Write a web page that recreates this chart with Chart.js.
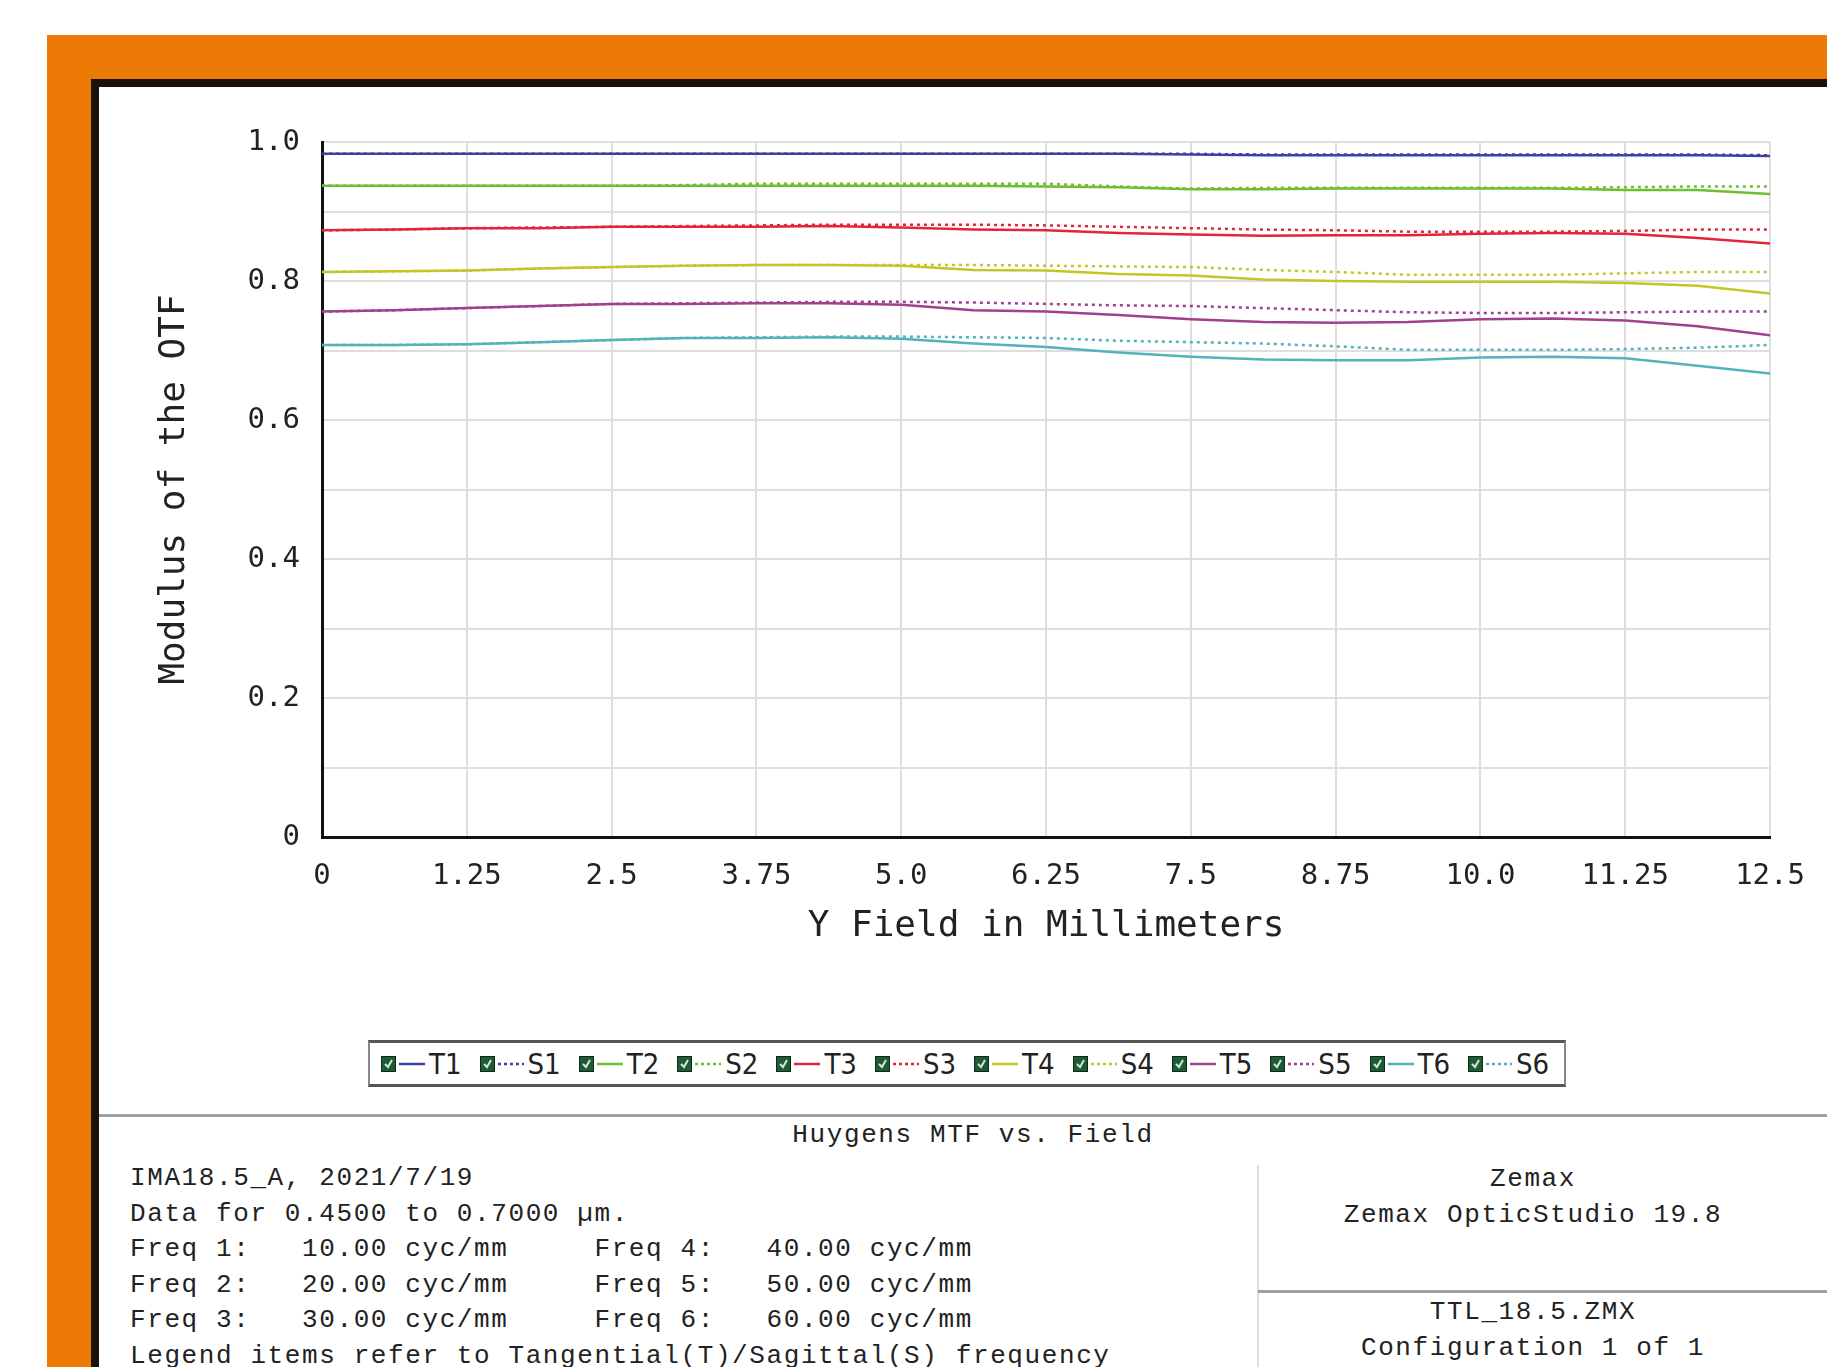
<!DOCTYPE html>
<html>
<head>
<meta charset="utf-8">
<script src="https://cdn.jsdelivr.net/npm/chart.js"></script>
<style>
  body { margin:0; width:1827px; height:1367px; overflow:hidden; background:#fff; position:relative;
         font-family:'Liberation Mono','DejaVu Sans Mono',monospace; color:#222; }
  .abs { position:absolute; }
  #orange { left:47px; top:35px; right:0; bottom:0; background:#ee7a06; }
  #black { left:91px; top:79px; right:0; bottom:0; background:#1c1109; }
  #white { left:99px; top:87px; right:0; bottom:0; background:#fff; }
  #chart { left:0; top:0; }
  #legend { left:368px; top:1040px; width:1198px; height:47px; box-sizing:border-box;
            border:2px solid #888; border-top:3px solid #555; border-bottom:3px solid #555;
            display:flex; align-items:center; padding-left:11px;
            font-family:'Liberation Sans Narrow','DejaVu Sans Condensed',sans-serif; font-size:29px; color:#222; }
  .item { display:flex; align-items:center; margin-right:18px; }
  .item svg { display:block; }
  .txt { font-size:26px; letter-spacing:1.6px; white-space:pre; line-height:35.5px; }
  #sep { left:99px; top:1114px; right:0; height:3px; background:#a0a0a0; }
  #vline { left:1257px; top:1165px; width:2px; bottom:0; background:#dedede; }
  #hline { left:1258px; top:1290px; right:0; height:3px; background:#a0a0a0; }
</style>
</head>
<body>
<div id="orange" class="abs"></div>
<div id="black" class="abs"></div>
<div id="white" class="abs"></div>
<canvas id="chart" class="abs" width="1827" height="1000"></canvas>
<div id="legend" class="abs"></div>
<div id="sep" class="abs"></div>
<div class="abs txt" style="left:773px;top:1118px;width:400px;text-align:center;">Huygens MTF vs. Field</div>
<div class="abs txt" style="left:130px;top:1161px;">IMA18.5_A, 2021/7/19
Data for 0.4500 to 0.7000 µm.
Freq 1:   10.00 cyc/mm     Freq 4:   40.00 cyc/mm
Freq 2:   20.00 cyc/mm     Freq 5:   50.00 cyc/mm
Freq 3:   30.00 cyc/mm     Freq 6:   60.00 cyc/mm
Legend items refer to Tangential(T)/Sagittal(S) frequency</div>
<div id="vline" class="abs"></div>
<div id="hline" class="abs"></div>
<div class="abs txt" style="left:1333px;top:1162px;width:400px;text-align:center;">Zemax
Zemax OpticStudio 19.8</div>
<div class="abs txt" style="left:1333px;top:1295px;width:400px;text-align:center;">TTL_18.5.ZMX
Configuration 1 of 1</div>

<script>
// Y field positions (mm)
var fieldY = [0, 0.625, 1.25, 1.875, 2.5, 3.125, 3.75, 4.375, 5.0, 5.625, 6.25,
              6.875, 7.5, 8.125, 8.75, 9.375, 10.0, 10.625, 11.25, 11.875, 12.5];

var xTickValues = [0, 1.25, 2.5, 3.75, 5, 6.25, 7.5, 8.75, 10, 11.25, 12.5];
var xTickLabels = ['0', '1.25', '2.5', '3.75', '5.0', '6.25', '7.5', '8.75', '10.0', '11.25', '12.5'];
var yTickValues = [0, 0.1, 0.2, 0.3, 0.4, 0.5, 0.6, 0.7, 0.8, 0.9, 1.0];
var yTickLabels = ['0', '', '0.2', '', '0.4', '', '0.6', '', '0.8', '', '1.0'];

var seriesNames = ['T1', 'S1', 'T2', 'S2', 'T3', 'S3', 'T4', 'S4', 'T5', 'S5', 'T6', 'S6'];
var seriesColors = ['#3b3fa6', '#3b3fa6', '#6fbd30', '#6fbd30', '#e3243b', '#e3243b',
                    '#c3c628', '#c3c628', '#a0408f', '#a0408f', '#52b3bb', '#52b3bb'];

var t1 = [0.983, 0.983, 0.983, 0.983, 0.983, 0.983, 0.983, 0.983, 0.983, 0.983, 0.983,
          0.983, 0.982, 0.981, 0.981, 0.981, 0.981, 0.981, 0.981, 0.981, 0.980];
var s1 = [0.983, 0.983, 0.983, 0.983, 0.983, 0.983, 0.983, 0.983, 0.983, 0.983, 0.983,
          0.983, 0.983, 0.982, 0.982, 0.982, 0.982, 0.982, 0.982, 0.982, 0.981];
var t2 = [0.937, 0.937, 0.937, 0.937, 0.937, 0.937, 0.937, 0.937, 0.937, 0.937, 0.936,
          0.935, 0.932, 0.932, 0.933, 0.933, 0.933, 0.933, 0.931, 0.931, 0.925];
var s2 = [0.937, 0.937, 0.937, 0.937, 0.937, 0.938, 0.940, 0.940, 0.940, 0.940, 0.940,
          0.936, 0.933, 0.934, 0.934, 0.934, 0.934, 0.934, 0.935, 0.936, 0.936];
var t3 = [0.873, 0.874, 0.876, 0.876, 0.878, 0.878, 0.878, 0.879, 0.877, 0.874, 0.873,
          0.869, 0.867, 0.865, 0.866, 0.866, 0.868, 0.869, 0.868, 0.862, 0.854];
var s3 = [0.873, 0.874, 0.876, 0.877, 0.878, 0.879, 0.880, 0.881, 0.881, 0.881, 0.880,
          0.878, 0.876, 0.874, 0.873, 0.871, 0.871, 0.871, 0.872, 0.874, 0.874];
var t4 = [0.813, 0.814, 0.815, 0.818, 0.820, 0.822, 0.823, 0.823, 0.822, 0.816, 0.815,
          0.810, 0.808, 0.802, 0.800, 0.799, 0.799, 0.799, 0.797, 0.793, 0.782];
var s4 = [0.813, 0.814, 0.815, 0.818, 0.820, 0.822, 0.823, 0.823, 0.823, 0.823, 0.822,
          0.821, 0.820, 0.816, 0.813, 0.809, 0.809, 0.809, 0.811, 0.813, 0.813];
var t5 = [0.756, 0.758, 0.761, 0.764, 0.767, 0.767, 0.768, 0.768, 0.766, 0.758, 0.756,
          0.751, 0.745, 0.741, 0.740, 0.741, 0.745, 0.746, 0.743, 0.735, 0.722];
var s5 = [0.756, 0.758, 0.761, 0.764, 0.767, 0.768, 0.769, 0.770, 0.770, 0.769, 0.767,
          0.765, 0.764, 0.761, 0.758, 0.755, 0.754, 0.754, 0.755, 0.756, 0.756];
var t6 = [0.708, 0.708, 0.709, 0.712, 0.715, 0.718, 0.718, 0.719, 0.717, 0.710, 0.705,
          0.697, 0.691, 0.687, 0.686, 0.686, 0.690, 0.691, 0.689, 0.678, 0.667];
var s6 = [0.708, 0.708, 0.709, 0.712, 0.715, 0.718, 0.719, 0.720, 0.720, 0.719, 0.718,
          0.714, 0.712, 0.710, 0.706, 0.701, 0.701, 0.701, 0.702, 0.704, 0.708];

var seriesValues = [t1, s1, t2, s2, t3, s3, t4, s4, t5, s5, t6, s6];
var dotted = [3, 4];

var datasets = seriesNames.map(function(name, i) {
  var sag = name.charAt(0) === 'S';
  return {
    label: name,
    data: seriesValues[i].map(function(v, j) { return { x: fieldY[j], y: v }; }),
    borderColor: seriesColors[i],
    borderWidth: 2.5,
    borderDash: sag ? dotted : [],
    pointRadius: 0,
    tension: 0,
    fill: false
  };
});

Chart.defaults.font.family = "'DejaVu Sans Mono', monospace";
Chart.defaults.color = '#222';

var chart = new Chart(document.getElementById('chart').getContext('2d'), {
  type: 'line',
  data: { datasets: datasets },
  options: {
    responsive: false,
    animation: false,
    devicePixelRatio: 1,
    layout: { padding: { left: 150, top: 142, right: 55, bottom: 52 } },
    plugins: { legend: { display: false }, tooltip: { enabled: false } },
    scales: {
      x: {
        type: 'linear', min: 0, max: 12.5,
        afterBuildTicks: function(s) { s.ticks = xTickValues.map(function(v) { return { value: v }; }); },
        afterFit: function(s) { s.height = 111; },
        ticks: {
          autoSkip: false, maxRotation: 0, padding: 22, font: { size: 29 },
          callback: function(v, i) { return xTickLabels[i]; }
        },
        grid: { color: '#dedede', lineWidth: 2, drawTicks: false },
        border: { color: '#111', width: 3 },
        title: { display: true, text: 'Y Field in Millimeters', font: { size: 36 }, padding: 0 }
      },
      y: {
        min: 0, max: 1,
        afterBuildTicks: function(s) { s.ticks = yTickValues.map(function(v) { return { value: v }; }); },
        afterFit: function(s) { s.width = 172; },
        ticks: {
          autoSkip: false, padding: 22, font: { size: 29 },
          callback: function(v, i) { return yTickLabels[i]; }
        },
        grid: { color: '#dedede', lineWidth: 2, drawTicks: false },
        border: { color: '#111', width: 3 },
        title: { display: true, text: 'Modulus of the OTF', font: { size: 36 }, padding: 3 }
      }
    }
  }
});

// legend row built from the chart datasets
var legend = document.getElementById('legend');
chart.data.datasets.forEach(function(ds) {
  var dash = ds.borderDash.length ? ' stroke-dasharray="3 3"' : '';
  var item = document.createElement('span');
  item.className = 'item';
  item.innerHTML =
    '<svg width="15" height="16"><rect x="0.5" y="0.5" width="14" height="15" fill="#1e5a36" stroke="#0c2a17"/>' +
    '<path d="M4 8 L7 11 L11 4" stroke="#cfe8d6" stroke-width="2" fill="none"/></svg>' +
    '<svg width="26" height="10" style="margin:0 4px 0 3px"><line x1="0" y1="5" x2="26" y2="5" stroke="' +
    ds.borderColor + '" stroke-width="2.5"' + dash + '/></svg>' +
    '<span>' + ds.label + '</span>';
  legend.appendChild(item);
});
</script>
</body>
</html>
